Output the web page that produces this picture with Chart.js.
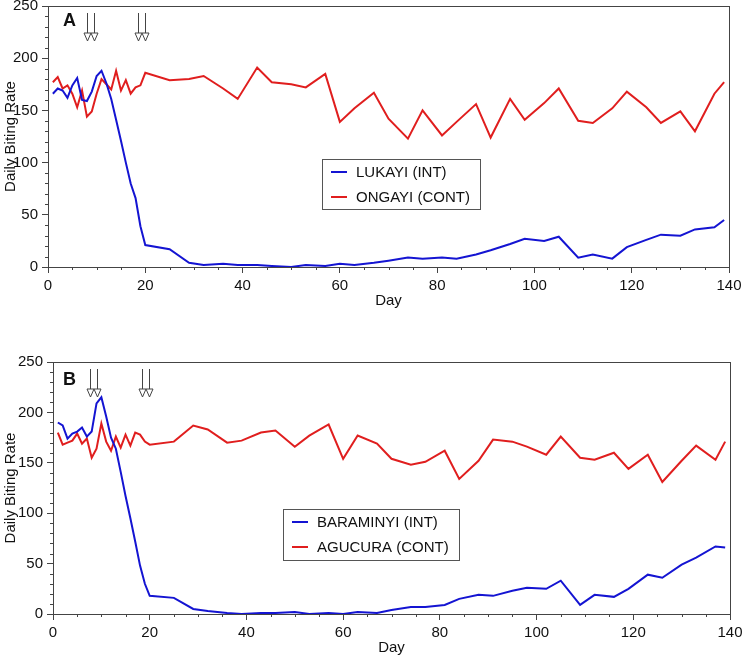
<!DOCTYPE html>
<html>
<head>
<meta charset="utf-8">
<script src="https://cdn.jsdelivr.net/npm/chart.js@4.4.1/dist/chart.umd.min.js"></script>
<style>
body { margin: 0; background: #fff; }
canvas { position: absolute; left: 0; }
#chartA { top: 0; }
#chartB { top: 310px; }
</style>
</head>
<body>
<canvas id="chartA" width="742" height="310"></canvas>
<canvas id="chartB" width="742" height="347"></canvas>
<script>
// sampling days (same for all four villages)
var days = [1, 2, 3, 4, 5, 6, 7, 8, 9, 10, 11, 12, 13, 14, 15, 16, 17, 18, 19, 20,
    25, 29, 32, 36, 39, 43, 46, 50, 53, 57, 60, 63, 67, 70, 74, 77, 81, 84, 88, 91,
    95, 98, 102, 105, 109, 112, 116, 119, 123, 126, 130, 133, 137, 139];

// panel A
var lukayi = [166, 171, 169, 162, 174, 181, 160, 159, 168, 183, 188, 176, 161, 141, 121, 100, 80, 66, 39, 21,
    17, 4, 2, 3, 2, 2, 1, 0, 2, 1, 3, 2, 4, 6, 9, 8, 9, 8, 12, 16,
    22, 27, 25, 29, 9, 12, 8, 19, 26, 31, 30, 36, 38, 45];
var ongayi = [177, 182, 171, 174, 166, 153, 169, 144, 149, 166, 180, 175, 170, 188, 169, 179, 166, 172, 174, 186,
    179, 180, 183, 171, 161, 191, 177, 175, 172, 185, 139, 152, 167, 142, 123, 150, 126, 139, 156, 124,
    161, 141, 157, 171, 140, 138, 152, 168, 153, 138, 149, 130, 166, 177];

// panel B
var baraminyi = [190, 187, 174, 179, 181, 185, 176, 181, 209, 215, 196, 175, 164, 141, 117, 95, 72, 48, 30, 18,
    16, 5, 3, 1, 0, 1, 1, 2, 0, 1, 0, 2, 1, 4, 7, 7, 9, 15, 19, 18,
    23, 26, 25, 33, 9, 19, 17, 25, 39, 36, 49, 56, 67, 66];
var agucura = [180, 168, 170, 172, 179, 169, 174, 155, 164, 189, 171, 162, 176, 165, 178, 167, 180, 178, 171, 168,
    171, 187, 183, 170, 172, 180, 182, 166, 177, 188, 154, 177, 169, 154, 148, 151, 162, 134, 152, 173,
    171, 166, 158, 176, 155, 153, 160, 144, 158, 131, 152, 167, 153, 171];

// spraying days marked with arrows
var arrowDaysA = [8, 9.4, 18.5, 20];
var arrowDaysB = [7.6, 9.1, 18.4, 19.9];

var xTicks = [0, 20, 40, 60, 80, 100, 120, 140];
var yTicks = [0, 50, 100, 150, 200, 250];

Chart.defaults.font.family = "'Liberation Sans', Arial, sans-serif";
Chart.defaults.font.size = 15;
Chart.defaults.color = '#111';

function toPoints(vals) {
    return days.map(function(d, i) { return { x: d, y: vals[i] }; });
}

var decor = {
    id: 'decor',
    afterDraw: function(chart, args, o) {
        var c = chart.ctx, a = chart.chartArea;
        var xs = chart.scales.x, ys = chart.scales.y;
        var v, p;
        c.save();
        c.strokeStyle = '#444';
        c.lineWidth = 1;
        c.strokeRect(Math.round(a.left) + 0.5, Math.round(a.top) + 0.5,
            Math.round(a.right - a.left), Math.round(a.bottom - a.top));

        // minor ticks
        c.beginPath();
        for (v = 5; v < 140; v += 5) {
            if (v % 20 === 0) continue;
            p = Math.round(xs.getPixelForValue(v)) + 0.5;
            c.moveTo(p, a.bottom);
            c.lineTo(p, a.bottom + 3);
        }
        for (v = 10; v < 250; v += 10) {
            if (v % 50 === 0) continue;
            p = Math.round(ys.getPixelForValue(v)) + 0.5;
            c.moveTo(a.left, p);
            c.lineTo(a.left - 3, p);
        }
        c.stroke();

        // axis titles
        c.fillStyle = '#111';
        c.font = "15px 'Liberation Sans', Arial, sans-serif";
        c.textAlign = 'center';
        c.textBaseline = 'middle';
        c.fillText('Day', (a.left + a.right) / 2, a.bottom + 34);
        c.save();
        c.translate(10.5, (a.top + a.bottom) / 2);
        c.rotate(-Math.PI / 2);
        c.fillText('Daily Biting Rate', 0, 0);
        c.restore();

        // panel letter
        c.font = "bold 18px 'Liberation Sans', Arial, sans-serif";
        c.textAlign = 'left';
        c.textBaseline = 'alphabetic';
        c.fillText(o.letter, o.letterX, o.letterY);

        // arrows
        o.arrows.forEach(function(d) {
            var px = Math.round(xs.getPixelForValue(d)) + 0.5;
            c.beginPath();
            c.moveTo(px, a.top + 7);
            c.lineTo(px, a.top + 27);
            c.stroke();
            c.beginPath();
            c.moveTo(px - 3.5, a.top + 27);
            c.lineTo(px + 3.5, a.top + 27);
            c.lineTo(px, a.top + 35);
            c.closePath();
            c.fillStyle = '#fff';
            c.fill();
            c.stroke();
        });

        // legend
        var b = o.legend;
        c.strokeStyle = '#555';
        c.strokeRect(b.x + 0.5, b.y + 0.5, b.w, b.h);
        c.font = "15px 'Liberation Sans', Arial, sans-serif";
        c.textBaseline = 'middle';
        c.fillStyle = '#111';
        chart.data.datasets.forEach(function(ds, i) {
            var ly = b.y + 13 + i * 25;
            c.strokeStyle = ds.borderColor;
            c.lineWidth = 2;
            c.beginPath();
            c.moveTo(b.x + 9, ly);
            c.lineTo(b.x + 25, ly);
            c.stroke();
            c.fillText(ds.label, b.x + 34, ly + 1);
        });
        c.restore();
    }
};

function makeChart(id, labels, series, yWidth, pad, decorOpts) {
    var ctx = document.getElementById(id).getContext('2d');
    return new Chart(ctx, {
        type: 'line',
        data: {
            datasets: [{
                label: labels[0],
                data: toPoints(series[0]),
                borderColor: '#1414d2',
                borderWidth: 2,
                pointRadius: 0,
                fill: false
            }, {
                label: labels[1],
                data: toPoints(series[1]),
                borderColor: '#e01e1e',
                borderWidth: 2,
                pointRadius: 0,
                fill: false
            }]
        },
        options: {
            responsive: false,
            animation: false,
            layout: { padding: pad },
            plugins: {
                legend: { display: false },
                tooltip: { enabled: false },
                decor: decorOpts
            },
            scales: {
                x: {
                    type: 'linear',
                    min: 0,
                    max: 140,
                    afterBuildTicks: function(s) { s.ticks = xTicks.map(function(v) { return { value: v }; }); },
                    afterFit: function(s) { s.height = 43; s.paddingLeft = 0; s.paddingRight = 0; },
                    ticks: { padding: 4, autoSkip: false, maxRotation: 0, color: '#111' },
                    grid: { drawOnChartArea: false, tickLength: 6, tickColor: '#444' },
                    border: { display: false }
                },
                y: {
                    min: 0,
                    max: 250,
                    afterBuildTicks: function(s) { s.ticks = yTicks.map(function(v) { return { value: v }; }); },
                    afterFit: function(s) { s.width = yWidth; s.paddingTop = 0; s.paddingBottom = 0; },
                    ticks: { padding: 4, autoSkip: false, color: '#111' },
                    grid: { drawOnChartArea: false, tickLength: 6, tickColor: '#444' },
                    border: { display: false }
                }
            }
        },
        plugins: [decor]
    });
}

var chartA = makeChart('chartA', ['LUKAYI (INT)', 'ONGAYI (CONT)'], [lukayi, ongayi], 48,
    { top: 6, right: 13, left: 0, bottom: 0 },
    { letter: 'A', letterX: 63, letterY: 26, arrows: arrowDaysA, legend: { x: 322, y: 159, w: 158, h: 50 } });

var chartB = makeChart('chartB', ['BARAMINYI (INT)', 'AGUCURA (CONT)'], [baraminyi, agucura], 53,
    { top: 52, right: 12, left: 0, bottom: 0 },
    { letter: 'B', letterX: 63, letterY: 75, arrows: arrowDaysB, legend: { x: 283, y: 199, w: 176, h: 51 } });
</script>
</body>
</html>
